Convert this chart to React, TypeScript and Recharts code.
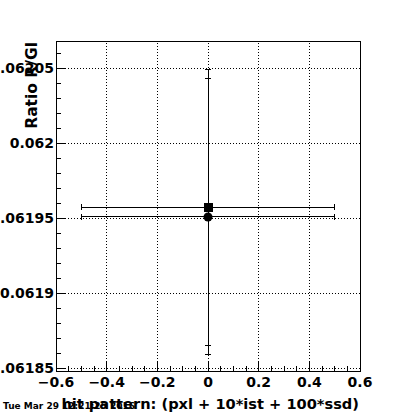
import React from "react";
import {
  ScatterChart,
  Scatter,
  XAxis,
  YAxis,
  ErrorBar,
  ReferenceLine,
  ReferenceArea,
} from "recharts";

// axis ticks
const xMajor = [-0.6, -0.4, -0.2, 0, 0.2, 0.4, 0.6];
const xLabels = ["−0.6", "−0.4", "−0.2", "0", "0.2", "0.4", "0.6"];
const xTicks = [
  -0.6, -0.55, -0.5, -0.45, -0.4, -0.35, -0.3, -0.25, -0.2, -0.15, -0.1, -0.05, 0,
  0.05, 0.1, 0.15, 0.2, 0.25, 0.3, 0.35, 0.4, 0.45, 0.5, 0.55, 0.6,
];
const yMajor = [0.06185, 0.0619, 0.06195, 0.062, 0.06205];
const yLabels = ["0.06185", "0.0619", "0.06195", "0.062", "0.06205"];
const yTicks = [
  0.06185, 0.06186, 0.06187, 0.06188, 0.06189, 0.0619, 0.06191, 0.06192, 0.06193,
  0.06194, 0.06195, 0.06196, 0.06197, 0.06198, 0.06199, 0.062, 0.06201, 0.06202,
  0.06203, 0.06204, 0.06205, 0.06206,
];
const xDomain = [-0.6, 0.6];
const yDomain = [0.061848, 0.062068];

// the two points: square and circle
const pointX = [0, 0];
const pointY = [0.0619573, 0.0619507];
const pointXErr = [0.5, 0.5];
const pointYErr = [0.000092, 0.000092];

const squareData = [{ x: pointX[0], y: pointY[0], ex: pointXErr[0], ey: pointYErr[0] }];
const circleData = [{ x: pointX[1], y: pointY[1], ex: pointXErr[1], ey: pointYErr[1] }];

const FONT = "'DejaVu Sans', sans-serif";

const near = (a: number, b: number) => Math.abs(a - b) < 1e-9;

function XTick(props: any) {
  const { x, y, payload } = props;
  const i = xMajor.findIndex((v) => near(v, payload.value));
  const len = i >= 0 ? 10 : 5;
  return (
    <g>
      <line x1={x} x2={x} y1={y} y2={y - len} stroke="#000" />
      {i >= 0 && (
        <text x={x} y={y + 16} textAnchor="middle" fontFamily={FONT} fontWeight="bold" fontSize={14} fill="#000">
          {xLabels[i]}
        </text>
      )}
    </g>
  );
}

function YTick(props: any) {
  const { x, y, payload } = props;
  const i = yMajor.findIndex((v) => near(v, payload.value));
  const len = i >= 0 ? 10 : 5;
  return (
    <g>
      <line x1={x} x2={x + len} y1={y} y2={y} stroke="#000" />
      {i >= 0 && (
        <text x={x - 2} y={y} dy="0.36em" textAnchor="end" fontFamily={FONT} fontWeight="bold" fontSize={14} fill="#000">
          {yLabels[i]}
        </text>
      )}
    </g>
  );
}

const squareShape = (p: any) => <rect x={p.cx - 4.5} y={p.cy - 4.5} width={9} height={9} fill="#000" />;
const circleShape = (p: any) => (
  <circle cx={p.cx} cy={p.cy} r={4.5} fill="#000" style={{ shapeRendering: "auto" }} />
);

export default function App() {
  return (
    <div style={{ position: "absolute", left: 0, top: 0, width: 400, height: 414, background: "#fff", overflow: "hidden" }}>
      <ScatterChart
        width={400}
        height={414}
        margin={{ top: 41, right: 40, bottom: 0, left: 0 }}
        style={{ shapeRendering: "crispEdges" }}
      >
        <XAxis
          dataKey="x"
          type="number"
          domain={xDomain}
          ticks={xTicks}
          interval={0}
          allowDataOverflow
          height={43}
          tickSize={0}
          tickMargin={0}
          tickLine={false}
          axisLine={{ stroke: "#000" }}
          tick={<XTick />}
        />
        <YAxis
          dataKey="y"
          type="number"
          domain={yDomain}
          ticks={yTicks}
          interval={0}
          allowDataOverflow
          width={56}
          tickSize={0}
          tickMargin={0}
          tickLine={false}
          axisLine={{ stroke: "#000" }}
          tick={<YTick />}
        />
        <ReferenceArea
          x1={xDomain[0]}
          x2={xDomain[1]}
          y1={yDomain[0]}
          y2={yDomain[1]}
          fill="none"
          fillOpacity={0}
          stroke="#000"
          strokeWidth={1}
          ifOverflow="visible"
        />
        {xMajor.slice(1, -1).map((v) => (
          <ReferenceLine key={"gx" + v} x={v} stroke="#000" strokeDasharray="1 2" />
        ))}
        {yMajor.map((v) => (
          <ReferenceLine key={"gy" + v} y={v} stroke="#000" strokeDasharray="1 2" />
        ))}
        <Scatter data={squareData} shape={squareShape} isAnimationActive={false}>
          <ErrorBar dataKey="ex" direction="x" width={3} stroke="#000" strokeWidth={1} />
          <ErrorBar dataKey="ey" direction="y" width={3} stroke="#000" strokeWidth={1} />
        </Scatter>
        <Scatter data={circleData} shape={circleShape} isAnimationActive={false}>
          <ErrorBar dataKey="ex" direction="x" width={3} stroke="#000" strokeWidth={1} />
          <ErrorBar dataKey="ey" direction="y" width={3} stroke="#000" strokeWidth={1} />
        </Scatter>
      </ScatterChart>
      <svg width={400} height={414} style={{ position: "absolute", left: 0, top: 0, pointerEvents: "none" }}>
        <text
          transform="translate(37,42) rotate(-90)"
          textAnchor="end"
          fontFamily={FONT}
          fontWeight="bold"
          fontSize={15.5}
          fill="#000"
        >
          Ratio R/Gl
        </text>
        <text x={3} y={409} fontFamily={FONT} fontWeight="bold" fontSize={9} fill="#000">
          Tue Mar 29 12:21:25 2016
        </text>
        <text x={359} y={409} textAnchor="end" fontFamily={FONT} fontWeight="bold" fontSize={14.6} fill="#000">
          hit pattern: (pxl + 10*ist + 100*ssd)
        </text>
      </svg>
    </div>
  );
}
